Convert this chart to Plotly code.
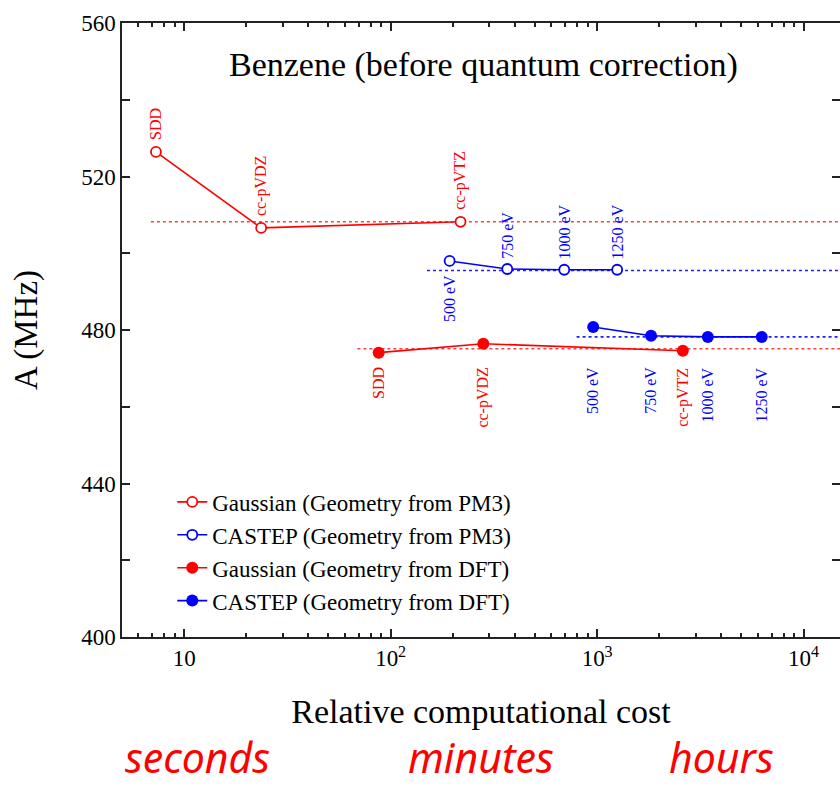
import numpy as np
import plotly.graph_objects as go

# ---- data ----
gau_pm3_cost = [7.3, 23.6, 218]
gau_pm3_A = [526.4, 506.6, 508.2]
gau_pm3_lab = ['SDD', 'cc-pVDZ', 'cc-pVTZ']

cas_pm3_cost = [193, 367, 693, 1250]
cas_pm3_A = [498.0, 495.9, 495.7, 495.7]
cas_pm3_lab = ['500 eV', '750 eV', '1000 eV', '1250 eV']

gau_dft_cost = [87.5, 281, 2600]
gau_dft_A = [474.1, 476.4, 474.6]
gau_dft_lab = ['SDD', 'cc-pVDZ', 'cc-pVTZ']

cas_dft_cost = [957, 1824, 3435, 6266]
cas_dft_A = [480.8, 478.5, 478.2, 478.2]
cas_dft_lab = ['500 eV', '750 eV', '1000 eV', '1250 eV']

# converged reference levels (dotted lines): start cost, end cost, value
ref_gau_pm3 = ([6.9, 20000], [508.2, 508.2])
ref_cas_pm3 = ([150, 20000], [495.5, 495.5])
ref_gau_dft = ([69, 20000], [475.1, 475.1])
ref_cas_dft = ([795, 20000], [478.2, 478.2])

y_ticks = [400, 440, 480, 520, 560]
x_ticks = [10, 100, 1000, 10000]
x_ticktext = ['10', '10<sup>2</sup>', '10<sup>3</sup>', '10<sup>4</sup>']

RED = '#ff0000'
BLUE = '#0000ff'
SERIF = 'Liberation Serif'
AX = '#222'

fig = go.Figure()

for (xs, ys), col in [(ref_gau_pm3, '#ff4040'), (ref_cas_pm3, '#2020ff'),
                      (ref_gau_dft, '#ff4040'), (ref_cas_dft, '#2020ff')]:
    fig.add_trace(go.Scatter(x=xs, y=ys, mode='lines', showlegend=False,
                             line=dict(color=col, width=1.6, dash='dot'), hoverinfo='skip'))

series = [
    ('Gaussian (Geometry from PM3)', gau_pm3_cost, gau_pm3_A, RED, True),
    ('CASTEP (Geometry from PM3)', cas_pm3_cost, cas_pm3_A, BLUE, True),
    ('Gaussian (Geometry from DFT)', gau_dft_cost, gau_dft_A, RED, False),
    ('CASTEP (Geometry from DFT)', cas_dft_cost, cas_dft_A, BLUE, False),
]
for name, xs, ys, col, hollow in series:
    if hollow:
        mk = dict(symbol='circle', size=10, color='white', line=dict(color=col, width=1.8))
    else:
        mk = dict(symbol='circle', size=12, color=col, line=dict(color=col, width=0))
    fig.add_trace(go.Scatter(x=xs, y=ys, mode='lines+markers', name=name,
                             line=dict(color=col, width=1.6), marker=mk))

# invisible trace carrying the right-hand tick axis
fig.add_trace(go.Scatter(x=[None], y=[None], yaxis='y2', showlegend=False, hoverinfo='skip'))

# point labels (rotated)
annots = []
def lab(x, y, text, col, above, yshift):
    annots.append(dict(x=np.log10(x), y=y, xref='x', yref='y', text=text, showarrow=False,
                       textangle=-90, font=dict(family=SERIF, size=16, color=col),
                       xanchor='center', yanchor='bottom' if above else 'top', yshift=yshift))

for x, y, t in zip(gau_pm3_cost, gau_pm3_A, gau_pm3_lab):
    lab(x, y, t, RED, True, 10)
for i, (x, y, t) in enumerate(zip(cas_pm3_cost, cas_pm3_A, cas_pm3_lab)):
    if i == 0:
        lab(x, y, t, BLUE, False, -12)
    else:
        lab(x, y, t, BLUE, True, 8)
for x, t in zip(gau_dft_cost, gau_dft_lab):
    lab(x, 470.8, t, RED, False, 0)
for x, t in zip(cas_dft_cost, cas_dft_lab):
    lab(x, 470.8, t, BLUE, False, 0)

annots.append(dict(x=0.503, y=0.932, xref='paper', yref='paper', showarrow=False,
                   xanchor='center', yanchor='middle',
                   text='Benzene (before quantum correction)',
                   font=dict(family=SERIF, size=34, color='black')))

for word, xp in [('seconds', 0.1045), ('minutes', 0.5), ('hours', 0.835)]:
    annots.append(dict(x=xp, y=-0.195, xref='paper', yref='paper', showarrow=False,
                       text=word, xanchor='center', yanchor='middle',
                       font=dict(family='Noto Sans', size=41, color=RED, style='italic')))

minor_x = [v * 10 ** d for d in range(0, 5) for v in range(2, 10) if 5 <= v * 10 ** d <= 20000]
minor_y = dict(dtick=20, tick0=400, ticks='inside', ticklen=8, tickcolor=AX,
               tickwidth=1.5, showgrid=False)

fig.update_layout(
    width=840, height=785,
    margin=dict(l=122, r=0, t=23, b=148),
    plot_bgcolor='white', paper_bgcolor='white',
    font=dict(family=SERIF, color='black'),
    annotations=annots,
    showlegend=True,
    legend=dict(x=0.07, y=0.255, xanchor='left', yanchor='top', bgcolor='rgba(0,0,0,0)',
                font=dict(family=SERIF, size=23), tracegroupgap=0),
    xaxis=dict(type='log', range=[np.log10(5), np.log10(15000)],
               tickvals=x_ticks, ticktext=x_ticktext, tickfont=dict(size=23),
               ticks='inside', ticklen=8, tickwidth=1.5, tickcolor=AX,
               showline=True, linecolor=AX, linewidth=1.5, mirror='ticks',
               showgrid=False, zeroline=False,
               minor=dict(tickvals=minor_x, ticks='inside', ticklen=4, tickcolor=AX,
                          tickwidth=1.5, showgrid=False),
               title=dict(text='Relative computational cost', font=dict(size=34), standoff=29)),
    yaxis=dict(range=[400, 560], tickvals=y_ticks, tickfont=dict(size=23),
               ticks='inside', ticklen=8, tickwidth=1.5, tickcolor=AX,
               showline=True, linecolor=AX, linewidth=1.5, mirror=False,
               showgrid=False, zeroline=False, minor=minor_y,
               title=dict(text='A (MHz)', font=dict(size=33), standoff=34)),
    yaxis2=dict(range=[400, 560], overlaying='y', side='right', tickvals=y_ticks,
                showticklabels=False, ticks='inside', ticklen=8, tickwidth=1.5, tickcolor=AX,
                showline=False, showgrid=False, zeroline=False, minor=minor_y),
)

fig.write_html("out.html", config={'displayModeBar': False},
               post_script="document.body.style.margin='0';")
